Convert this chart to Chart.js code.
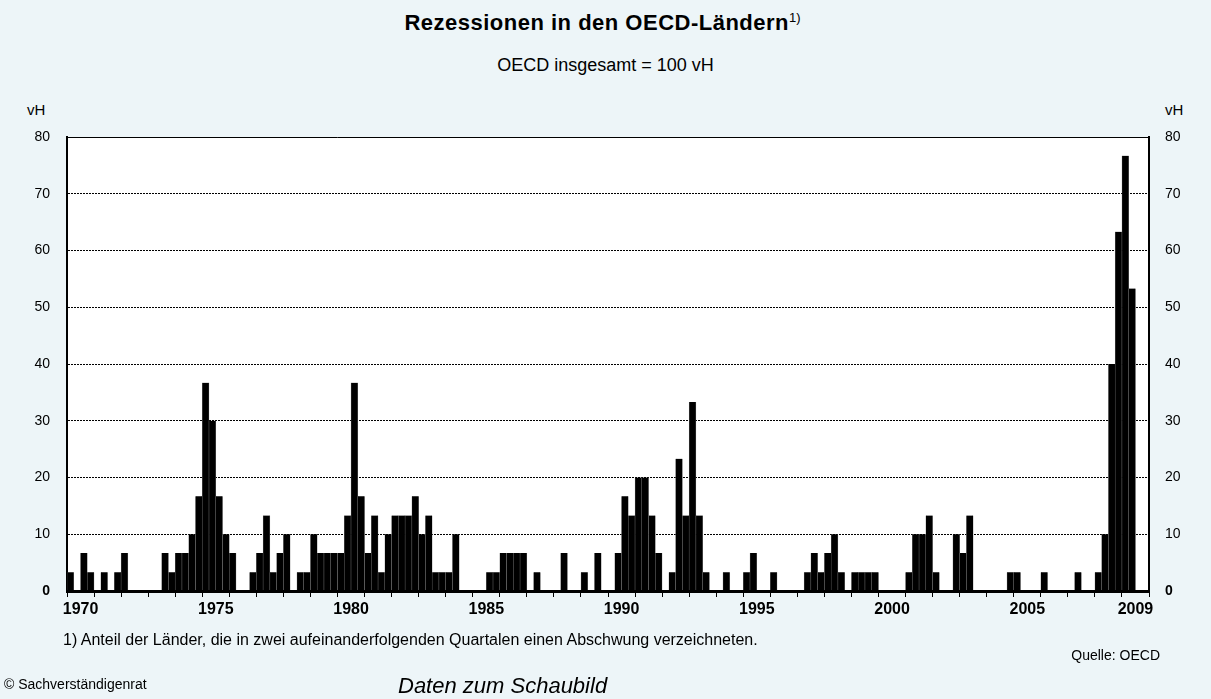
<!DOCTYPE html>
<html lang="de">
<head>
<meta charset="utf-8">
<title>Rezessionen in den OECD-Ländern</title>
<script src="https://cdn.jsdelivr.net/npm/chart.js@4.4.0/dist/chart.umd.min.js"></script>
<style>
  html, body { margin: 0; padding: 0; background: #edf5f8; }
  body { width: 1211px; height: 699px; position: relative; overflow: hidden;
         font-family: "Liberation Sans", Arial, sans-serif; color: #000; }
  #chartBox { position: absolute; left: 0; top: 0; width: 1211px; height: 699px; }
  .txt { position: absolute; white-space: nowrap; }
  #titel { left: 0; width: 1205px; top: 12px; text-align: center; font-size: 22px; line-height: 22px; font-weight: bold; letter-spacing: 0.5px; }
  #titel sup { font-size: 13px; font-weight: normal; letter-spacing: 0; vertical-align: 8px; line-height: 0; }
  #untertitel { left: 0; width: 1211px; top: 56px; text-align: center; font-size: 18px; line-height: 18px; }
  #einheitLinks { left: 27px; top: 102px; font-size: 15px; line-height: 15px; }
  #einheitRechts { left: 1165px; top: 102px; font-size: 15px; line-height: 15px; }
  #fussnote { left: 63px; top: 632px; font-size: 16px; line-height: 16px; }
  #quelle { right: 51px; top: 648px; font-size: 14px; line-height: 14px; }
  #copyright { left: 4px; top: 677px; font-size: 14px; line-height: 14px; }
  #daten { left: 398px; top: 675px; font-size: 22px; line-height: 22px; font-style: italic; }
</style>
</head>
<body>
<div class="txt" id="titel">Rezessionen in den OECD-Ländern<sup>1)</sup></div>
<div class="txt" id="untertitel">OECD insgesamt = 100 vH</div>
<div class="txt" id="einheitLinks">vH</div>
<div class="txt" id="einheitRechts">vH</div>
<div id="chartBox"><canvas id="rezessionChart" width="1211" height="699"></canvas></div>
<div class="txt" id="fussnote">1) Anteil der Länder, die in zwei aufeinanderfolgenden Quartalen einen Abschwung verzeichneten.</div>
<div class="txt" id="quelle">Quelle: OECD</div>
<div class="txt" id="copyright">© Sachverständigenrat</div>
<div class="txt" id="daten">Daten zum Schaubild</div>

<script>
// Jahre auf der x-Achse (je vier Quartale)
const jahre = [];
for (let j = 1970; j <= 2009; j++) jahre.push(String(j));
const beschrifteteJahre = ['1970', '1975', '1980', '1985', '1990', '1995', '2000', '2005', '2009'];

// Anteil der Länder in Rezession (vH), Quartale 1970 Q1 bis 2009 Q4
const werte70er = [
    3.3, 0, 6.7, 3.3,      0, 3.3, 0, 3.3,      6.7, 0, 0, 0,        0, 0, 6.7, 3.3,
    6.7, 6.7, 10, 16.7,    36.7, 30, 16.7, 10,  6.7, 0, 0, 3.3,      6.7, 13.3, 3.3, 6.7,
    10, 0, 3.3, 3.3,       10, 6.7, 6.7, 6.7
];
const werte80er = [
    6.7, 13.3, 36.7, 16.7, 6.7, 13.3, 3.3, 10,  13.3, 13.3, 13.3, 16.7, 10, 13.3, 3.3, 3.3,
    3.3, 10, 0, 0,         0, 0, 3.3, 3.3,      6.7, 6.7, 6.7, 6.7,   0, 3.3, 0, 0,
    0, 6.7, 0, 0,          3.3, 0, 6.7, 0
];
const werte90er = [
    0, 6.7, 16.7, 13.3,    20, 20, 13.3, 6.7,   0, 3.3, 23.3, 13.3,  33.3, 13.3, 3.3, 0,
    0, 3.3, 0, 0,          3.3, 6.7, 0, 0,      3.3, 0, 0, 0,        0, 3.3, 6.7, 3.3,
    6.7, 10, 3.3, 0,       3.3, 3.3, 3.3, 3.3
];
const werte00er = [
    0, 0, 0, 0,            3.3, 10, 10, 13.3,   3.3, 0, 0, 10,       6.7, 13.3, 0, 0,
    0, 0, 0, 3.3,          3.3, 0, 0, 0,        3.3, 0, 0, 0,        0, 3.3, 0, 0,
    3.3, 10, 40, 63.3,     76.7, 53.3, null, null
];
const yTicks = [0, 10, 20, 30, 40, 50, 60, 70, 80];

const schrift = '"Liberation Sans", Arial, sans-serif';

// Quartals-Labels bauen
const quartale = [];
jahre.forEach(j => { for (let q = 1; q <= 4; q++) quartale.push(j + ' Q' + q); });
const werte = werte70er.concat(werte80er, werte90er, werte00er);

// weißer Hintergrund nur im Plotbereich
const plotHintergrund = {
    id: 'plotHintergrund',
    beforeDraw(chart) {
        const { ctx, chartArea } = chart;
        ctx.save();
        ctx.fillStyle = '#ffffff';
        ctx.fillRect(chartArea.left, chartArea.top, chartArea.right - chartArea.left, chartArea.bottom - chartArea.top);
        ctx.restore();
    }
};

function yFont(ctx) {
    const fett = ctx.tick && ctx.tick.value === 0;
    return { family: schrift, size: 14, weight: fett ? 'bold' : 'normal' };
}

const ctx = document.getElementById('rezessionChart').getContext('2d');
const rezessionChart = new Chart(ctx, {
    type: 'bar',
    data: {
        labels: quartale,
        datasets: [{
            label: 'Rezessionen',
            data: werte,
            xAxisID: 'x',
            yAxisID: 'y',
            backgroundColor: '#000000',
            borderColor: '#7a7a7a',
            borderWidth: { left: 0.5, right: 0.5, top: 0, bottom: 0 },
            barPercentage: 1,
            categoryPercentage: 1
        }]
    },
    options: {
        responsive: false,
        animation: false,
        events: [],
        layout: { padding: { top: 137, left: 0, right: 0, bottom: 0 } },
        plugins: {
            legend: { display: false },
            tooltip: { enabled: false }
        },
        scales: {
            x: {
                type: 'category',
                display: false,
                offset: true
            },
            xJahre: {
                type: 'category',
                labels: jahre,
                position: 'bottom',
                offset: true,
                grid: { offset: true, drawOnChartArea: false, drawTicks: true, tickLength: 6, color: '#000', lineWidth: 1 },
                border: { display: true, color: '#000', width: 3, z: 1 },
                ticks: {
                    autoSkip: false,
                    maxRotation: 0,
                    padding: 3,
                    color: '#000',
                    font: { family: schrift, size: 16, weight: 'bold' },
                    callback: function (value, index) {
                        const j = jahre[index];
                        return beschrifteteJahre.includes(j) ? j : '';
                    }
                },
                afterFit: function (scale) { scale.height = 108; }
            },
            xOben: {
                type: 'category',
                labels: jahre,
                position: 'top',
                offset: true,
                grid: { display: false, drawTicks: false },
                ticks: { display: false },
                border: { display: true, color: '#000', width: 1 },
                afterFit: function (scale) { scale.height = 0; }
            },
            y: {
                position: 'left',
                min: 0,
                max: 80,
                afterBuildTicks: function (scale) { scale.ticks = yTicks.map(v => ({ value: v })); },
                grid: { color: '#000', lineWidth: 1, drawTicks: false },
                border: { display: true, color: '#000', width: 2, dash: [2, 1] },
                ticks: { padding: 17, color: '#000', font: yFont },
                afterFit: function (scale) { scale.width = 67; }
            },
            yRechts: {
                position: 'right',
                min: 0,
                max: 80,
                afterBuildTicks: function (scale) { scale.ticks = yTicks.map(v => ({ value: v })); },
                grid: { drawOnChartArea: false, drawTicks: false, color: 'rgba(0,0,0,0)' },
                border: { display: true, color: '#000', width: 2 },
                ticks: { padding: 16, color: '#000', font: yFont },
                afterFit: function (scale) { scale.width = 62; }
            }
        }
    },
    plugins: [plotHintergrund]
});
</script>
</body>
</html>
